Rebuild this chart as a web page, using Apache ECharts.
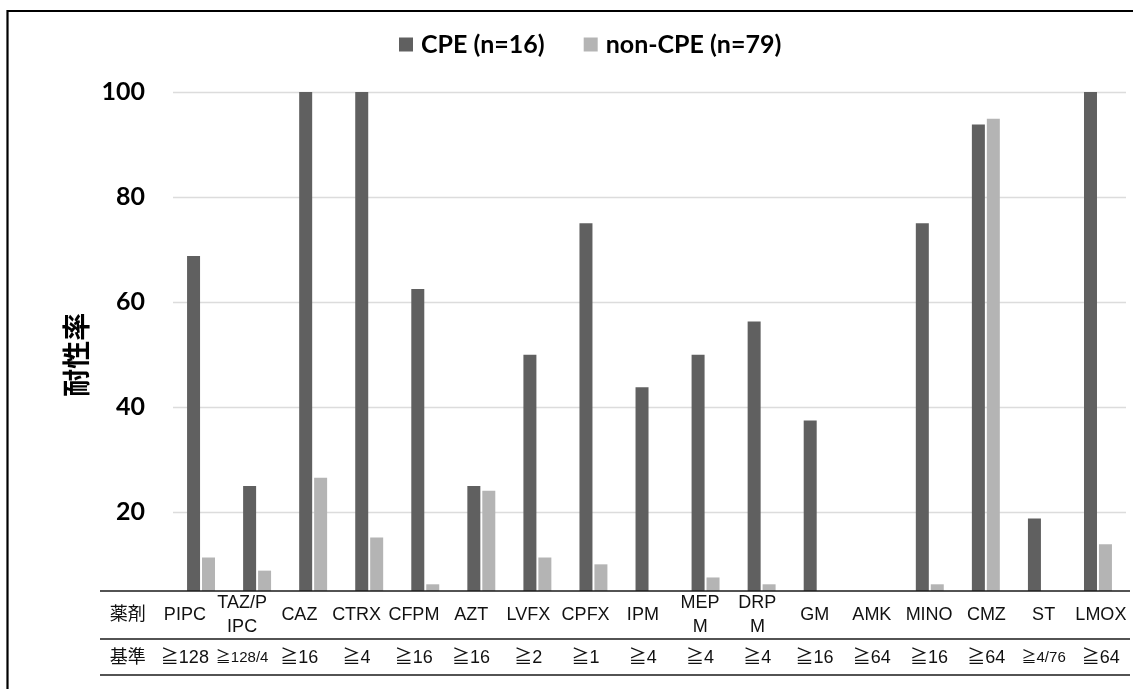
<!DOCTYPE html>
<html>
<head>
<meta charset="utf-8">
<script src="https://cdn.jsdelivr.net/npm/echarts@6/dist/echarts.min.js"></script>
<style>
  html, body { margin: 0; padding: 0; background: #fff; }
  #chart { width: 1133px; height: 689px; }
</style>
</head>
<body>
<div id="chart"></div>
<script>
// Drug names (table row "薬剤") and resistance breakpoints (row "基準")
const drugs = ['PIPC', 'TAZ/P\nIPC', 'CAZ', 'CTRX', 'CFPM', 'AZT', 'LVFX', 'CPFX', 'IPM',
  'MEP\nM', 'DRP\nM', 'GM', 'AMK', 'MINO', 'CMZ', 'ST', 'LMOX'];
const criteria = ['≧128', '≧128/4', '≧16', '≧4', '≧16', '≧16', '≧2', '≧1', '≧4',
  '≧4', '≧4', '≧16', '≧64', '≧16', '≧64', '≧4/76', '≧64'];

// Resistance rate (%)
const cpe = [68.8, 25, 100, 100, 62.5, 25, 50, 75, 43.8, 50, 56.3, 37.5, 0, 75, 93.8, 18.8, 100];
const nonCpe = [11.4, 8.9, 26.6, 15.2, 6.3, 24.1, 11.4, 10.1, 0, 7.6, 6.3, 0, 0, 6.3, 94.9, 0, 13.9];

const seriesNames = ['CPE (n=16)', 'non-CPE (n=79)'];
const yTicks = [0, 100, 20];  // min, max, interval
const rowHeads = ['薬剤', '基準'];

const latin = 'Lato, "Noto Sans", sans-serif';
const tableFont = '"Liberation Sans", Arial, "Noto Sans CJK JP", sans-serif';

const chart = echarts.init(document.getElementById('chart'), null, { renderer: 'canvas' });

const tableAxisBase = {
  type: 'category',
  gridIndex: 1,
  z: 60,
  axisLine: { show: false },
  axisTick: { show: false },
  splitLine: { show: false }
};

chart.setOption({
  backgroundColor: '#ffffff',
  animation: false,
  legend: {
    data: seriesNames,
    left: 399,
    top: 32,
    padding: 0,
    icon: 'rect',
    itemWidth: 14,
    itemHeight: 14,
    itemGap: 39,
    textStyle: { fontFamily: latin, fontWeight: 'bold', fontSize: 25, color: '#000', padding: [0, 0, 0, 3] }
  },
  grid: [
    { left: 173, right: 7, top: 92, bottom: 71.6 },
    { left: 99, right: 3.5, top: 615, height: 43 }
  ],
  xAxis: [
    {
      type: 'category',
      gridIndex: 0,
      data: drugs,
      axisLine: { show: false },
      axisTick: { show: false },
      axisLabel: { show: false }
    },
    Object.assign({}, tableAxisBase, {
      position: 'top',
      data: [rowHeads[0]].concat(drugs),
      axisLabel: {
        interval: 0,
        margin: 0,
        verticalAlign: 'middle',
        lineHeight: 24,
        fontFamily: tableFont,
        fontSize: 18,
        color: '#111'
      }
    }),
    Object.assign({}, tableAxisBase, {
      position: 'bottom',
      data: [rowHeads[1]].concat(criteria),
      axisLabel: {
        interval: 0,
        margin: 0,
        verticalAlign: 'middle',
        fontFamily: tableFont,
        fontSize: 18,
        color: '#111',
        formatter: function (v) {
          return v.indexOf('/') >= 0 ? '{s|' + v + '}' : v;
        },
        rich: {
          s: { fontFamily: tableFont, fontSize: 15, color: '#111' }
        }
      }
    })
  ],
  yAxis: [
    {
      type: 'value',
      gridIndex: 0,
      min: yTicks[0],
      max: yTicks[1],
      interval: yTicks[2],
      name: '耐性率',
      nameLocation: 'middle',
      nameGap: 80,
      nameRotate: 90,
      nameTextStyle: {
        fontFamily: '"Noto Sans CJK JP", sans-serif',
        fontWeight: 'bold',
        fontSize: 28,
        color: '#000'
      },
      axisLine: { show: false },
      axisTick: { show: false },
      splitLine: { lineStyle: { color: '#dcdcdc', width: 1.3 } },
      axisLabel: {
        margin: 28,
        fontFamily: latin,
        fontWeight: 'bold',
        fontSize: 25,
        color: '#000',
        formatter: function (v) { return v === 0 ? '' : String(v); }
      }
    },
    { type: 'value', gridIndex: 1, show: false, min: 0, max: 1 }
  ],
  series: [
    {
      name: seriesNames[0],
      type: 'bar',
      xAxisIndex: 0,
      yAxisIndex: 0,
      data: cpe,
      barWidth: 13,
      barGap: '15%',
      itemStyle: { color: '#606060' }
    },
    {
      name: seriesNames[1],
      type: 'bar',
      xAxisIndex: 0,
      yAxisIndex: 0,
      data: nonCpe,
      barWidth: 13,
      itemStyle: { color: '#b4b4b4' }
    }
  ],
  graphic: {
    elements: [
      // table background hides the lower end of the plot area
      { type: 'rect', z: 50, shape: { x: 99, y: 591, width: 1034, height: 98 }, style: { fill: '#ffffff' } },
      { type: 'line', z: 55, shape: { x1: 100, y1: 591, x2: 1130, y2: 591 }, style: { stroke: '#1a1a1a', lineWidth: 1.6 } },
      { type: 'line', z: 55, shape: { x1: 100, y1: 639, x2: 1130, y2: 639 }, style: { stroke: '#1a1a1a', lineWidth: 1.6 } },
      { type: 'line', z: 55, shape: { x1: 100, y1: 675, x2: 1130, y2: 675 }, style: { stroke: '#1a1a1a', lineWidth: 1.6 } },
      // outer frame
      { type: 'polyline', z: 55, shape: { points: [[7.5, 689], [7.5, 11], [1133, 11]] }, style: { stroke: '#000', lineWidth: 2.2, fill: null } }
    ]
  }
});
</script>
</body>
</html>
